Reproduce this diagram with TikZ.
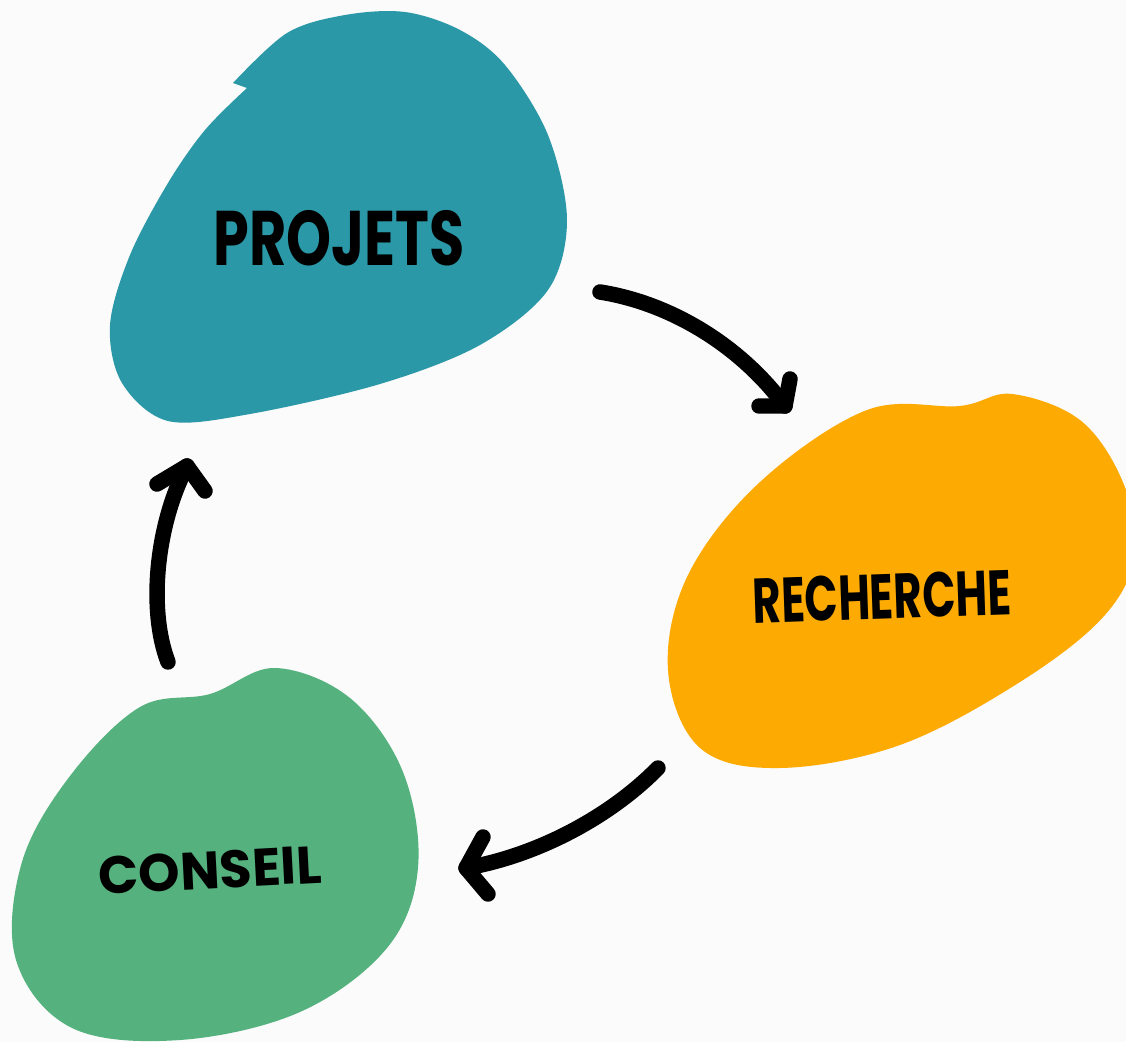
\documentclass[tikz,border=0pt]{standalone}
\usepackage{fontspec}
\setmainfont{Poppins}
\definecolor{bg}{HTML}{FBFBFB}
\definecolor{blobteal}{HTML}{2A98A7}
\definecolor{blobamber}{HTML}{FDAB03}
\definecolor{blobgreen}{HTML}{55B27E}
\tikzset{
  flow/.style={line width=4.4pt, line cap=round, line join=round, draw=black},
  label/.style={font=\bfseries, text=black, inner sep=0pt},
}
\begin{document}
\begin{tikzpicture}[x=0.01cm,y=-0.01cm]
\useasboundingbox (0,0) rectangle (1126,1042);
\fill[bg] (0,0) rectangle (1126,1042);
\clip (0,0) rectangle (1126,1042);

% teal blob, with the small step on its upper-left edge
\fill[blobteal] plot[smooth, tension=0.55] coordinates {
  (233,83) (287,33) (345,15) (405,12) (460,30) (505,65)
  (548,135) (567,220) (548,290) (480,345) (380,384) (250,414)
  (168,421) (122,383) (110,325) (130,255) (168,183) (205,130) (247,88)}
  -- cycle;

% amber blob, running off the right edge
\fill[blobamber] plot[smooth cycle, tension=0.6] coordinates {
  (867,410) (960,406) (1012,394) (1080,420) (1122,480) (1136,550)
  (1105,615) (1020,682) (900,745) (780,768) (700,748) (668,670)
  (688,575) (760,482)};

% green blob
\fill[blobgreen] plot[smooth cycle, tension=0.6] coordinates {
  (210,694) (275,668) (350,698) (403,772) (418,868) (387,948)
  (300,1012) (180,1040) (72,1028) (16,960) (22,862) (70,776) (140,707)};

\node[label, font=\fontsize{22}{24}\selectfont\bfseries] (projets) at (339,238)
  {\scalebox{0.74}[1]{PROJETS}};
\node[label, rotate=2, font=\fontsize{18}{20}\selectfont\bfseries] (recherche) at (882,597)
  {\scalebox{0.69}[1]{RECHERCHE}};
\node[label, rotate=3, font=\fontsize{15}{17}\selectfont\bfseries] (conseil) at (210,870)
  {CONSEIL};

% arrow ends
\coordinate (pr0) at (600,292);
\coordinate (pr1) at (785,406);
\coordinate (rc0) at (658,768);
\coordinate (rc1) at (466,868);
\coordinate (cp0) at (168,662);
\coordinate (cp1) at (187,466);

% projets -> recherche
\draw[flow] (pr0) .. controls (670,303) and (740,345) .. (pr1);
\draw[flow] (759,406) -- (pr1) -- (790,379);
% recherche -> conseil
\draw[flow] (rc0) .. controls (612,815) and (540,855) .. (rc1);
\draw[flow] (483,837) -- (rc1) -- (488,894);
% conseil -> projets
\draw[flow] (cp0) .. controls (148,610) and (156,525) .. (cp1);
\draw[flow] (157,484) -- (cp1) -- (205,491);
\end{tikzpicture}
\end{document}
